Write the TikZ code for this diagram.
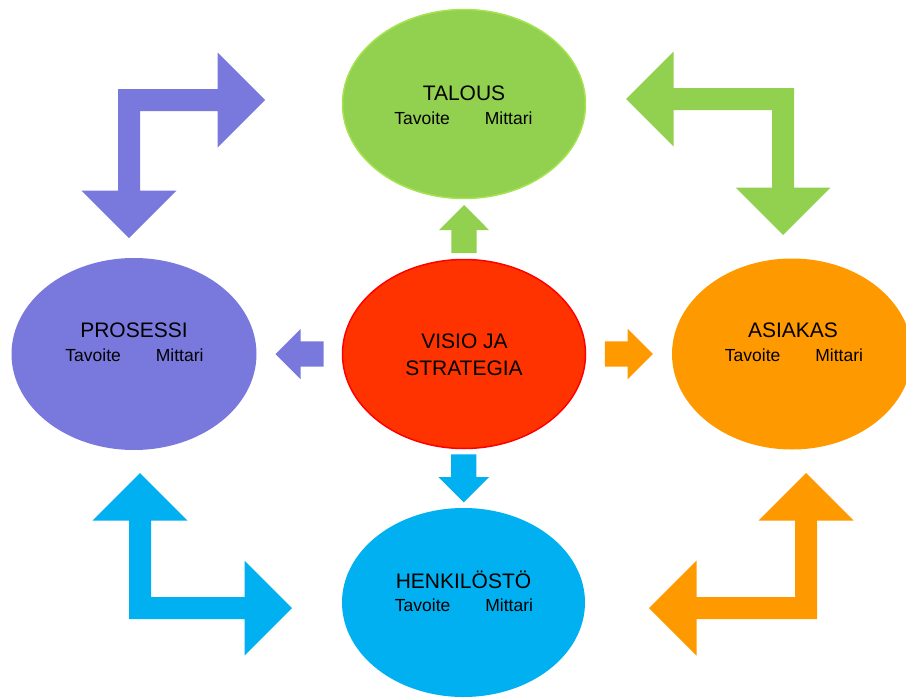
\documentclass[tikz,border=0pt]{standalone}
\usepackage{fontspec}
\setmainfont{Liberation Sans}
\usetikzlibrary{shapes.geometric}
\usetikzlibrary{shapes.arrows}
\usetikzlibrary{calc}
\definecolor{talouscol}{HTML}{92D050}
\definecolor{talousrim}{HTML}{A6E34F}
\definecolor{visiocol}{HTML}{FF3300}
\definecolor{visiorim}{HTML}{FF0000}
\definecolor{prosessicol}{HTML}{7979DD}
\definecolor{asiakascol}{HTML}{FF9900}
\definecolor{henkcol}{HTML}{00B0F0}

\begin{document}
\begin{tikzpicture}[x=1pt,y=-1pt,
	oval/.style={ellipse,inner sep=0pt,outer sep=0pt},
	heading/.style={anchor=base,inner sep=0pt,font=\fontsize{21}{25}\selectfont},
	goal/.style={anchor=base,inner sep=0pt,font=\fontsize{17.5}{21}\selectfont},
	smallarrow/.style={single arrow,anchor=tail,inner xsep=0pt,inner ysep=12.5pt,outer sep=0pt,minimum height=48pt,
		single arrow head extend=12.5pt,single arrow tip angle=90}]
	\useasboundingbox (0,0) rectangle (906,699);
	\clip (0,0) rectangle (906,699);
	% the five ovals
	\node[oval,fill=talouscol,draw=talousrim,line width=1.5pt,minimum width=243pt,minimum height=189pt] (talous) at (464,104) {};
	\node[oval,fill=visiocol,draw=visiorim,line width=1.5pt,minimum width=243pt,minimum height=189pt] (visio) at (464,354) {};
	\node[oval,fill=prosessicol,minimum width=245pt,minimum height=192pt] (prosessi) at (134,354) {};
	\node[oval,fill=asiakascol,minimum width=240pt,minimum height=191pt] (asiakas) at (792,354) {};
	\node[oval,fill=henkcol,minimum width=243pt,minimum height=189pt] (henk) at (463.5,602.5) {};
	% texts
	\node[heading] (talous-title) at (464,100) {TALOUS};
	\node[goal] (talous-sub) at (463.5,124) {Tavoite\hspace{35pt}Mittari};
	\node[heading] (visio-l1) at (464.5,348) {VISIO JA};
	\node[heading] (visio-l2) at (464,375) {STRATEGIA};
	\node[heading] (prosessi-title) at (134,337) {PROSESSI};
	\node[goal] (prosessi-sub) at (134.5,361) {Tavoite\hspace{35pt}Mittari};
	\node[heading] (asiakas-title) at (793,337) {ASIAKAS};
	\node[goal] (asiakas-sub) at (794,361) {Tavoite\hspace{35pt}Mittari};
	\node[heading] (henk-title) at (463.5,588) {HENKILÖSTÖ};
	\node[goal] (henk-sub) at (464,611) {Tavoite\hspace{35pt}Mittari};
	% arrows out of the centre
	\node[smallarrow,fill=talouscol,rotate=90] (to-talous) at ($($(visio.north)!0.5!(talous.south)$)+(0,24)$) {};
	\node[smallarrow,fill=prosessicol,rotate=180] (to-prosessi) at ($($(visio.west)!0.5!(prosessi.east)$)+(24,0)$) {};
	\node[smallarrow,fill=asiakascol] (to-asiakas) at ($($(visio.east)!0.5!(asiakas.west)$)+(-24,0)$) {};
	\node[smallarrow,fill=henkcol,rotate=-90] (to-henk) at ($($(visio.south)!0.5!(henk.north)$)+(0,-24)$) {};
	% bent arrows in the corners
	\foreach \cx/\cy/\sx/\sy/\h/\v/\col in {118/89/1/1/147/149/prosessicol, 794/88/-1/1/168/147/talouscol,
		129/619/1/-1/163/146/henkcol, 817/619/-1/-1/168/146/asiakascol}{
		\begin{scope}[shift={(\cx,\cy)},xscale=\sx,yscale=\sy]
			\fill[\col] (0,0) -- ({\h-47.5},0) -- ({\h-47.5},-36.5) -- (\h,11) -- ({\h-47.5},58.5) -- ({\h-47.5},22)
				-- (22,22) -- (22,{\v-47.5}) -- (58.5,{\v-47.5}) -- (11,\v) -- (-36.5,{\v-47.5}) -- (0,{\v-47.5}) -- cycle;
		\end{scope}
	}
\end{tikzpicture}
\end{document}
